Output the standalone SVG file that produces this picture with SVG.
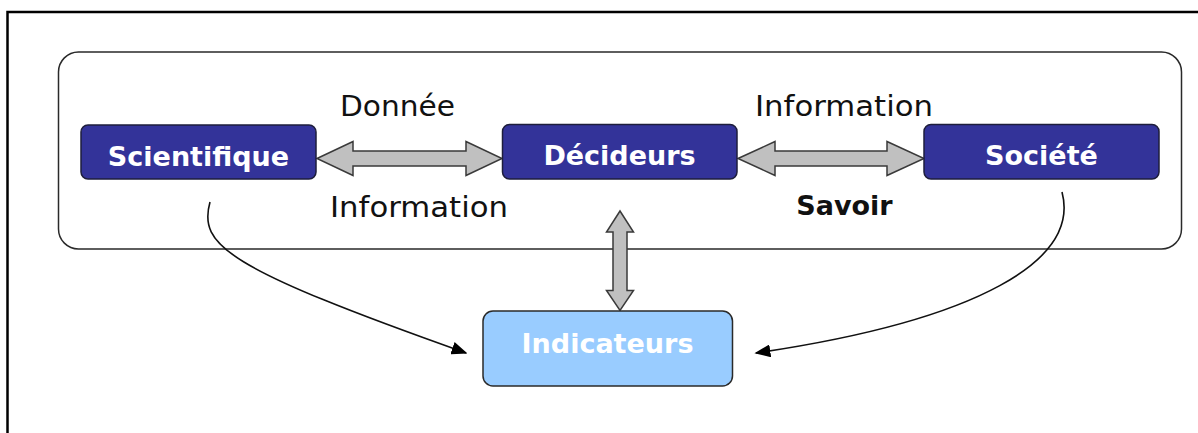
<svg xmlns="http://www.w3.org/2000/svg" width="1198" height="433" viewBox="0 0 1198 433">
  <defs>
    <style>
      .box{fill:#333399;stroke:#1e1e3c;stroke-width:1.5}
      .ind{fill:#99ccff;stroke:#2a2a2a;stroke-width:1.5}
      .lbl{font-family:"DejaVu Sans","Liberation Sans",sans-serif;font-weight:bold;font-size:27px;fill:#ffffff;text-anchor:middle}
      .txt{font-family:"DejaVu Sans","Liberation Sans",sans-serif;font-size:28px;fill:#111111;text-anchor:middle}
      .btxt{font-family:"DejaVu Sans","Liberation Sans",sans-serif;font-size:27px;font-weight:bold;fill:#111111;text-anchor:middle}
      .fat{fill:#c0c0c0;stroke:#3a3a3a;stroke-width:1.5;stroke-linejoin:miter}
      .curve{fill:none;stroke:#111111;stroke-width:1.6}
    </style>
    <marker id="ah" viewBox="0 0 10 10" refX="9" refY="5" markerWidth="10" markerHeight="8" markerUnits="userSpaceOnUse" orient="auto" preserveAspectRatio="none">
      <path d="M0,0 L10,5 L0,10 z" fill="#000000"/>
    </marker>
    <marker id="ah2" viewBox="0 0 10 10" refX="9" refY="5" markerWidth="16" markerHeight="13" markerUnits="userSpaceOnUse" orient="auto" preserveAspectRatio="none">
      <path d="M0,0 L10,5 L0,10 z" fill="#000000"/>
    </marker>
  </defs>
  <rect x="0" y="0" width="1198" height="433" fill="#ffffff"/>
  <rect id="frame" x="7.5" y="12" width="1300" height="500" fill="none" stroke="#000000" stroke-width="2.5"/>
  <rect id="container" x="58.5" y="52" width="1123" height="197" rx="20" fill="none" stroke="#2a2a2a" stroke-width="1.5"/>

  <g id="connectors">
    <path class="fat" d="M317,158.5 L353,141.5 L353,151 L466,151 L466,141.5 L502,158.5 L466,175.5 L466,166 L353,166 L353,175.5 Z"/>
    <path class="fat" d="M738,158.5 L775,141.5 L775,151 L887,151 L887,141.5 L924,158.5 L887,175.5 L887,166 L775,166 L775,175.5 Z"/>
    <path class="fat" d="M620,211 L633.5,232 L627,232 L627,290.5 L633.5,290.5 L620,310.5 L606.5,290.5 L613,290.5 L613,232 L606.5,232 Z"/>
    <path class="curve" d="M210,202 C198,245 226,268 466,353" marker-end="url(#ah2)"/>
    <path class="curve" d="M1062,192 C1080,260 980,320 756,353" marker-end="url(#ah2)"/>
  </g>

  <g id="scientifique">
    <rect class="box" x="81" y="125" width="235" height="54" rx="7"/>
    <text class="lbl" x="198.5" y="165.5">Scientifique</text>
  </g>
  <g id="decideurs">
    <rect class="box" x="502.5" y="124.5" width="234.5" height="54.5" rx="7"/>
    <text class="lbl" x="619.5" y="165">Décideurs</text>
  </g>
  <g id="societe">
    <rect class="box" x="924" y="124.5" width="235" height="54.5" rx="7"/>
    <text class="lbl" x="1041.5" y="165">Société</text>
  </g>
  <g id="indicateurs">
    <rect class="ind" x="483" y="311" width="249.5" height="75" rx="10"/>
    <text class="lbl" x="607.5" y="352.5" fill="#f2f8ff">Indicateurs</text>
  </g>

  <g id="labels">
    <text class="txt" x="397.5" y="116" textLength="115" lengthAdjust="spacingAndGlyphs">Donnée</text>
    <text class="txt" x="419" y="216.5" textLength="178" lengthAdjust="spacingAndGlyphs">Information</text>
    <text class="txt" x="844" y="116" textLength="178" lengthAdjust="spacingAndGlyphs">Information</text>
    <text class="btxt" x="844.5" y="215">Savoir</text>
  </g>
</svg>
